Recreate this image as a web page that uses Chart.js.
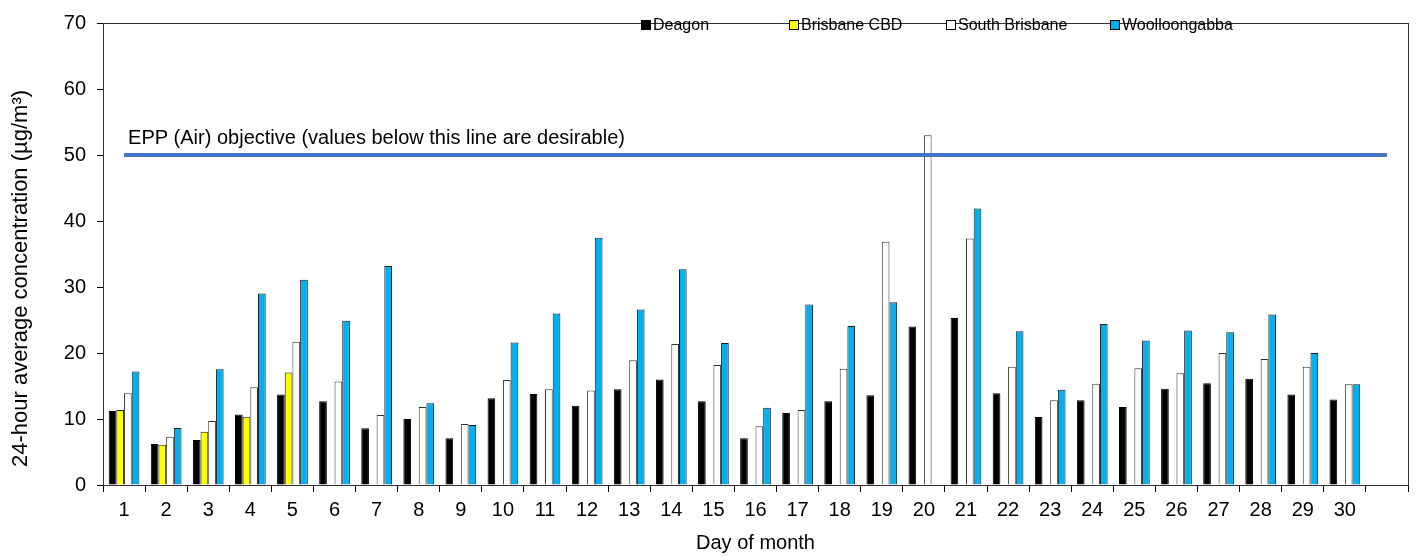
<!DOCTYPE html>
<html lang="en">
<head>
    <meta charset="UTF-8">
    <title>24-hour average concentration by day</title>
    <script src="https://cdn.jsdelivr.net/npm/chart.js"></script>
    <style>
        body { margin: 0; background: #fff; }
        #wrap { width: 1420px; height: 557px; }
    </style>
</head>
<body>
    <div id="wrap">
        <canvas id="pmChart" width="1420" height="557"></canvas>
    </div>

    <script>
        // last slot is left empty, like the original chart
        const days = [
            '1', '2', '3', '4', '5', '6', '7', '8', '9', '10',
            '11', '12', '13', '14', '15', '16', '17', '18', '19', '20',
            '21', '22', '23', '24', '25', '26', '27', '28', '29', '30', ''
        ];

        const deagon = [
            11.2, 6.2, 6.8, 10.7, 13.7, 12.7, 8.6, 10.0, 7.1, 13.15,
            13.8, 12.0, 14.5, 16.0, 12.7, 7.1, 10.9, 12.7, 13.6, 24.0,
            25.3, 13.9, 10.3, 12.85, 11.8, 14.6, 15.4, 16.1, 13.7, 12.95, null
        ];
        const brisbaneCBD = [
            11.35, 6.1, 8.05, 10.35, 17.05, null, null, null, null, null,
            null, null, null, null, null, null, null, null, null, null,
            null, null, null, null, null, null, null, null, null, null, null
        ];
        const southBrisbane = [
            13.9, 7.3, 9.7, 14.8, 21.7, 15.7, 10.6, 11.8, 9.25, 15.9,
            14.5, 14.3, 18.9, 21.35, 18.2, 8.9, 11.35, 17.6, 36.85, 53.0,
            37.35, 17.9, 12.85, 15.35, 17.7, 16.95, 20.0, 19.1, 17.9, 15.25, null
        ];
        const woolloongabba = [
            17.2, 8.65, 17.55, 29.0, 31.1, 24.9, 33.2, 12.4, 9.1, 21.6,
            26.0, 37.45, 26.6, 32.7, 21.5, 11.7, 27.35, 24.1, 27.7, null,
            41.9, 23.3, 14.45, 24.4, 21.9, 23.4, 23.15, 25.85, 20.0, 15.25, null
        ];

        const objective = 50;
        const objectiveText = 'EPP (Air) objective (values below this line are desirable)';
        const yTitle = '24-hour average concentration (µg/m³)';

        const yTicks = [0, 10, 20, 30, 40, 50, 60, 70];

        const FONT = "'Liberation Sans', Arial, sans-serif";
        Chart.defaults.font.family = FONT;
        Chart.defaults.font.size = 20;
        Chart.defaults.color = '#000';

        // plot frame, y title, objective caption and the legend inside the plot
        const extras = {
            id: 'extras',
            afterDraw(chart) {
                const c = chart.ctx;
                const a = chart.chartArea;
                const xs = chart.scales.x;
                const ys = chart.scales.y;
                c.save();

                c.strokeStyle = '#333';
                c.lineWidth = 1;
                c.strokeRect(Math.round(a.left) + 0.5, Math.round(a.top) + 0.5,
                    Math.round(a.right - a.left), Math.round(a.bottom - a.top));

                c.fillStyle = '#000';
                c.save();
                c.translate(21, chart.height / 2);
                c.rotate(-Math.PI / 2);
                c.font = '22px ' + FONT;
                c.textAlign = 'center';
                c.textBaseline = 'middle';
                c.fillText(yTitle, 0, 0);
                c.restore();

                c.font = '20px ' + FONT;
                c.textAlign = 'left';
                c.textBaseline = 'alphabetic';
                c.fillText(objectiveText, xs.getPixelForValue(0) + 4, ys.getPixelForValue(objective) - 11.5);

                const legendX = [641, 789, 946, 1110];
                const bars = chart.data.datasets.filter(d => d.type === 'bar');
                c.font = '16px ' + FONT;
                c.textBaseline = 'middle';
                bars.forEach((d, i) => {
                    const x = legendX[i];
                    c.fillStyle = d.backgroundColor;
                    c.fillRect(x, 20, 10, 10);
                    c.strokeStyle = '#000';
                    c.strokeRect(x + 0.5, 20.5, 9, 9);
                    c.fillStyle = '#000';
                    c.fillText(d.label, x + 12, 25.5);
                });
                c.restore();
            }
        };

        const barStyle = (label, data, fill, edge) => ({
            type: 'bar',
            label: label,
            data: data,
            backgroundColor: fill,
            borderColor: edge,
            borderWidth: 1,
            order: 1
        });

        new Chart(document.getElementById('pmChart'), {
            type: 'bar',
            data: {
                labels: days,
                datasets: [
                    {
                        type: 'line',
                        label: 'EPP (Air) objective',
                        data: days.map(() => objective),
                        borderColor: '#4472C4',
                        borderWidth: 4,
                        pointRadius: 0,
                        fill: false,
                        order: 0
                    },
                    barStyle('Deagon', deagon, '#000000', '#000000'),
                    barStyle('Brisbane CBD', brisbaneCBD, '#FFFF00', '#222222'),
                    barStyle('South Brisbane', southBrisbane, '#FFFFFF', '#333333'),
                    barStyle('Woolloongabba', woolloongabba, '#00B0F0', '#1a1a1a')
                ]
            },
            options: {
                responsive: false,
                animation: false,
                categoryPercentage: 0.73,
                barPercentage: 1.0,
                layout: { padding: { top: 18, right: 12, left: 0, bottom: 0 } },
                plugins: {
                    legend: { display: false },
                    tooltip: { enabled: false }
                },
                scales: {
                    x: {
                        offset: true,
                        grid: { offset: true, drawOnChartArea: false, drawTicks: true, tickLength: 7, color: '#000' },
                        border: { display: true, color: '#000', width: 1 },
                        ticks: { padding: 6, maxRotation: 0, autoSkip: false },
                        title: { display: true, text: 'Day of month', padding: { top: 0, bottom: 2 } },
                        afterFit: s => { s.height = 72; }
                    },
                    y: {
                        min: 0,
                        max: 70,
                        afterBuildTicks: s => { s.ticks = yTicks.map(v => ({ value: v })); },
                        grid: { drawOnChartArea: false, drawTicks: true, tickLength: 6, color: '#000' },
                        border: { display: true, color: '#000', width: 1 },
                        ticks: { padding: 11 },
                        title: { display: false },
                        afterFit: s => { s.width = 103; }
                    }
                }
            },
            plugins: [extras]
        });
    </script>
</body>
</html>
